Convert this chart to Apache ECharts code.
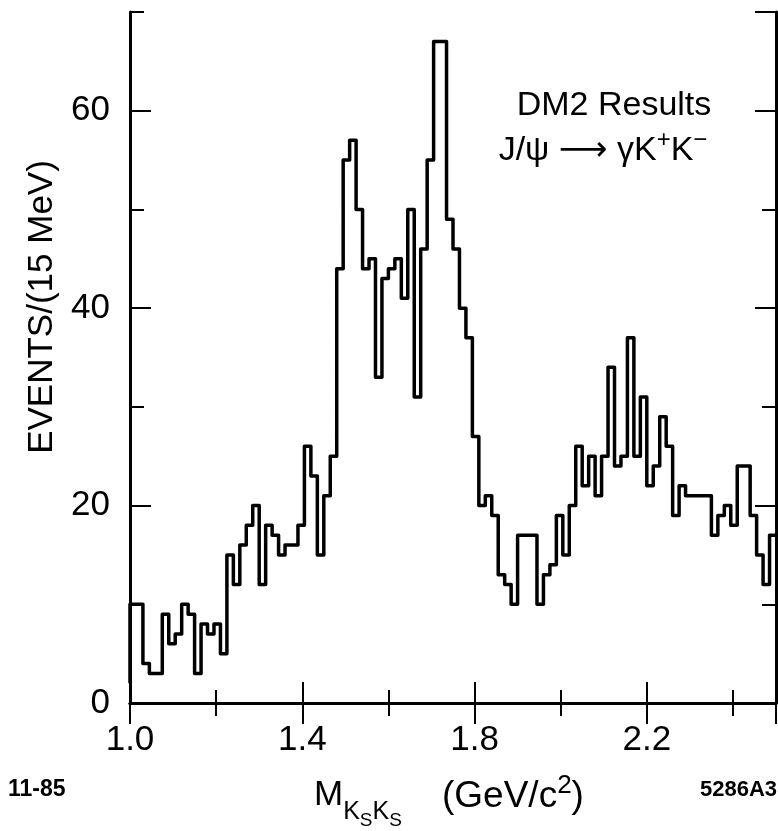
<!DOCTYPE html>
<html>
<head>
<meta charset="utf-8">
<title>DM2 J/psi -> gamma K+ K-</title>
<script src="https://cdn.jsdelivr.net/npm/echarts@6/dist/echarts.min.js"></script>
<style>
  html, body { margin: 0; padding: 0; background: #fff; }
  #chart { width: 778px; height: 831px; }
</style>
</head>
<body>
<div id="chart"></div>
<script>
// histogram: 15 MeV bins starting at 1.0 GeV
var binStart = 1.0;
var binWidth = 0.015;
// level where the outline starts at the left edge
var startLevel = 2;
// events per bin
var counts = [
  10, 10, 4, 3, 3, 9, 6, 7, 10, 9,
  3, 8, 7, 8, 5, 15, 12, 16, 18, 20,
  12, 18, 17, 15, 16, 16, 18, 26, 23, 15,
  21, 25, 44, 55, 57, 50, 44, 45, 33, 43,
  44, 45, 41, 50, 31, 46, 55, 67, 67, 49,
  46, 40, 37, 27, 20, 21, 19, 13, 12, 10,
  17, 17, 17, 10, 13, 14, 19, 15, 20, 26,
  22, 25, 21, 25, 34, 24, 25, 37, 25, 31,
  22, 24, 29, 26, 19, 22, 21, 21, 21, 21,
  17, 19, 20, 18, 24, 24, 19, 15, 12, 17
];
var xLabels = ['1.0', '1.4', '1.8', '2.2'];
var yLabels = [0, 20, 40, 60];

var FONT = 'Liberation Sans';

// outline points at the bin edges (drawn as a step line)
var outline = [[binStart, startLevel]];
counts.forEach(function (c, i) {
  outline.push([+(binStart + i * binWidth).toFixed(3), c]);
});
outline.push([+(binStart + counts.length * binWidth).toFixed(3), counts[counts.length - 1]]);

var chart = echarts.init(document.getElementById('chart'));

function xAxisPair(pos, withLabels) {
  return [
    { // short ticks every 0.2
      type: 'value', position: pos, min: 1.0, max: 2.5, interval: 0.2,
      axisLine: { show: true, lineStyle: { color: '#000', width: 3 } },
      axisTick: { show: true, inside: true, length: 13, lineStyle: { color: '#000', width: 2 } },
      axisLabel: { show: false },
      splitLine: { show: false }
    },
    { // long ticks every 0.4, counted as offset from 1.0
      type: 'value', position: pos, min: 0, max: 1.5, interval: 0.4,
      axisLine: { show: false },
      axisTick: { show: true, inside: true, length: 21, lineStyle: { color: '#000', width: 2 } },
      axisLabel: {
        show: withLabels, showMaxLabel: false, margin: 20,
        color: '#000', fontFamily: FONT, fontSize: 35,
        formatter: function (v) { return xLabels[Math.round(v / 0.4)] || ''; }
      },
      splitLine: { show: false }
    }
  ];
}

function yAxisPair(pos, withLabels) {
  return [
    {
      type: 'value', position: pos, min: 0, max: 70, interval: 10,
      axisLine: { show: true, lineStyle: { color: '#000', width: 3 } },
      axisTick: { show: true, inside: true, length: 14, lineStyle: { color: '#000', width: 2 } },
      axisLabel: { show: false },
      splitLine: { show: false }
    },
    {
      type: 'value', position: pos, min: 0, max: 70, interval: 20,
      axisLine: { show: false },
      axisTick: { show: true, inside: true, length: 21, lineStyle: { color: '#000', width: 2 } },
      axisLabel: {
        show: withLabels, showMaxLabel: false, margin: 20,
        color: '#000', fontFamily: FONT, fontSize: 35,
        formatter: function (v) { return yLabels.indexOf(v) >= 0 ? String(v) : ''; }
      },
      splitLine: { show: false }
    }
  ];
}

var option = {
  animation: false,
  backgroundColor: '#fff',
  grid: { left: 130, right: 2, top: 12, bottom: 128 },
  xAxis: xAxisPair('bottom', true).concat(xAxisPair('top', false)),
  yAxis: yAxisPair('left', true).concat(yAxisPair('right', false)),
  series: [{
    type: 'line',
    xAxisIndex: 0,
    yAxisIndex: 0,
    step: 'end',
    showSymbol: false,
    symbol: 'none',
    data: outline,
    lineStyle: { color: '#000', width: 3.5, join: 'round' }
  }],
  graphic: [
    {
      type: 'text', x: 42, y: 307, rotation: Math.PI / 2,
      style: { text: 'EVENTS/(15 MeV)', fontFamily: FONT, fontSize: 35, fill: '#000', align: 'center', verticalAlign: 'middle' }
    },
    {
      type: 'text', x: 614, y: 106,
      style: { text: 'DM2 Results', fontFamily: FONT, fontSize: 34, fill: '#000', align: 'center', verticalAlign: 'middle' }
    },
    {
      type: 'text', x: 603, y: 148,
      style: {
        text: '{t|J/ψ }{a|⟶}{t| γK}{p|+}{t|K}{p|−}',
        align: 'center', verticalAlign: 'middle',
        rich: {
          t: { fontFamily: FONT, fontSize: 34, fill: '#000', lineHeight: 40, verticalAlign: 'bottom' },
          a: { fontFamily: 'DejaVu Sans', fontSize: 34, fill: '#000', lineHeight: 40, verticalAlign: 'bottom' },
          p: { fontFamily: FONT, fontSize: 24, fill: '#000', lineHeight: 40, verticalAlign: 'top' }
        }
      }
    },
    {
      type: 'text', x: 8, y: 790,
      style: { text: '11-85', fontFamily: FONT, fontWeight: 'bold', fontSize: 23, fill: '#000', align: 'left', verticalAlign: 'middle' }
    },
    {
      type: 'text', x: 314, y: 778,
      style: {
        text: '{m|M}{k|K}{s|S}{k|K}{s|S}',
        align: 'left', verticalAlign: 'top',
        rich: {
          m: { fontFamily: FONT, fontSize: 35, fill: '#000', lineHeight: 52, verticalAlign: 'top' },
          k: { fontFamily: FONT, fontSize: 25, fill: '#000', lineHeight: 52, verticalAlign: 'middle', padding: [16, 0, 0, 0] },
          s: { fontFamily: FONT, fontSize: 19, fill: '#000', lineHeight: 52, verticalAlign: 'bottom' }
        }
      }
    },
    {
      type: 'text', x: 442, y: 773,
      style: {
        text: '{n|(GeV/c}{s|2}{n|)}',
        align: 'left', verticalAlign: 'top',
        rich: {
          n: { fontFamily: FONT, fontSize: 37, fill: '#000', lineHeight: 42, verticalAlign: 'bottom' },
          s: { fontFamily: FONT, fontSize: 26, fill: '#000', lineHeight: 42, verticalAlign: 'top' }
        }
      }
    },
    {
      type: 'text', x: 777, y: 790,
      style: { text: '5286A3', fontFamily: FONT, fontWeight: 'bold', fontSize: 22, fill: '#000', align: 'right', verticalAlign: 'middle' }
    }
  ]
};

chart.setOption(option);
</script>
</body>
</html>
